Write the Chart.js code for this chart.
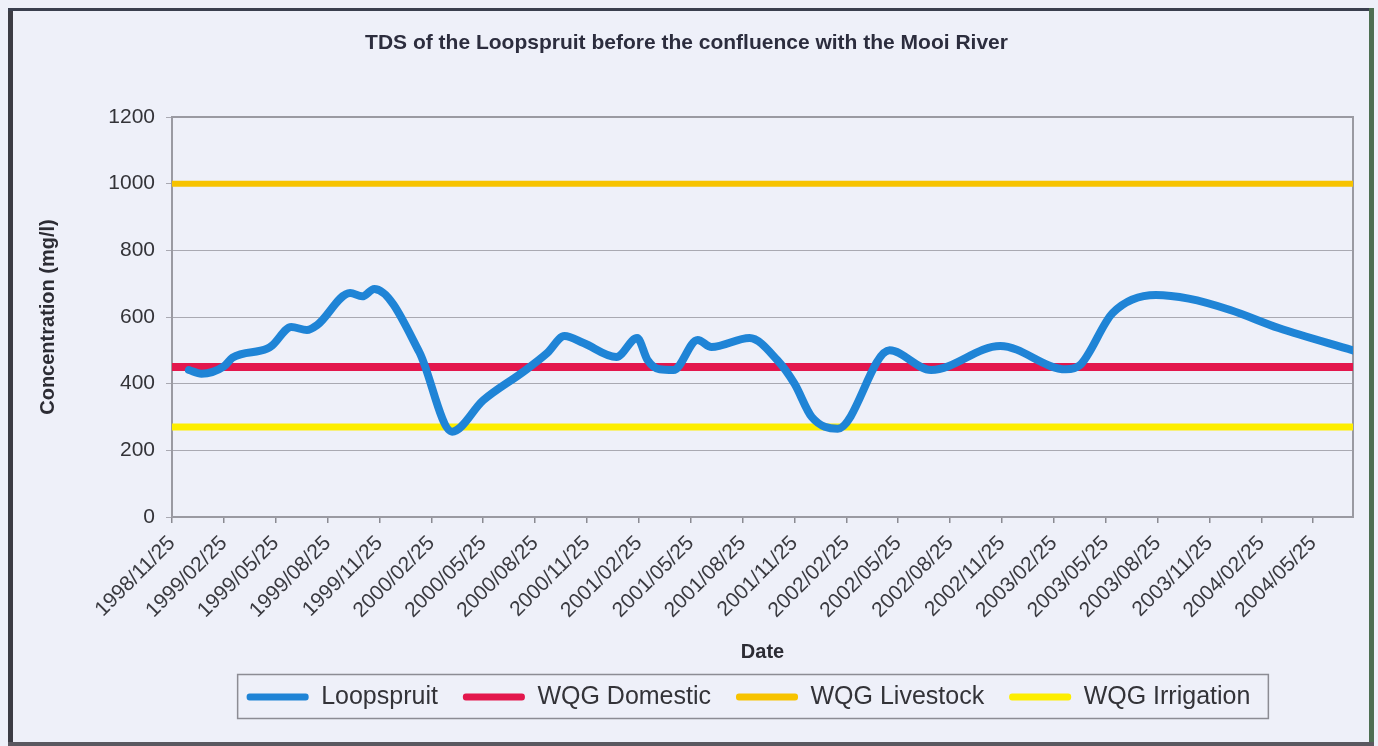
<!DOCTYPE html>
<html>
<head>
<meta charset="utf-8">
<script src="https://cdn.jsdelivr.net/npm/chart.js@4.4.1/dist/chart.umd.min.js"></script>
<style>
html,body{margin:0;padding:0;background:#eef0f9;overflow:hidden}
#wrap{position:relative;width:1378px;height:746px}
</style>
</head>
<body>
<div id="wrap"><canvas id="c"></canvas></div>
<script>
// ---- data (x in months after 1998/11/25) ----
const tickLabels = ["1998/11/25","1999/02/25","1999/05/25","1999/08/25","1999/11/25",
  "2000/02/25","2000/05/25","2000/08/25","2000/11/25","2001/02/25","2001/05/25",
  "2001/08/25","2001/11/25","2002/02/25","2002/05/25","2002/08/25","2002/11/25",
  "2003/02/25","2003/05/25","2003/08/25","2003/11/25","2004/02/25","2004/05/25"];
const monthsPerTick = 3;
const axisEndMonth = 68.3;

const loopMonths = [0.98, 1.7, 3.0, 3.5, 5.5, 5.8, 6.9, 7.8, 8.4, 10.3, 11.0, 11.7,
  14.3, 16.2, 18.0, 20.3, 21.7, 22.7, 23.8, 25.7, 26.9, 27.5, 28.2, 29.0, 30.4, 31.2,
  33.4, 35.0, 36.0, 37.0, 38.5, 41.5, 43.9, 47.9, 51.7, 52.5, 54.4, 56.9, 58.8, 61.2,
  64.0, 68.3];
const loopValues = [441, 430, 452, 478, 505, 515, 570, 561, 576, 672, 662, 684,
  495, 256, 350, 435, 492, 543, 522, 480, 537, 471, 443, 441, 531, 510,
  537, 471, 400, 300, 265, 500, 441, 513, 443, 455, 612, 666, 655, 621,
  567, 500];

const domesticValue = 450;
const livestockValue = 1000;
const irrigationValue = 270;

const yMin = 0, yMax = 1200, yStep = 200;

// ---- build datasets ----
const loopData = loopMonths.map((m, i) => ({x: m, y: loopValues[i]}));
const flat = v => [{x: 0, y: v}, {x: axisEndMonth, y: v}];

const FONT = "'Liberation Sans', Arial, sans-serif";
const LEGEND_SHIFT = -14;

const framePlugin = {
  id: 'frame',
  afterLayout(chart) {
    const lg = chart.legend;
    if (!lg) return;
    lg.left += LEGEND_SHIFT;
    lg.right += LEGEND_SHIFT;
    if (lg.legendHitBoxes) {
      lg.legendHitBoxes.forEach(h => { h.left += LEGEND_SHIFT; });
    }
  },
  beforeDraw(chart) {
    const ctx = chart.ctx;
    ctx.save();
    ctx.fillStyle = '#eef0f9';
    ctx.fillRect(0, 0, chart.width, chart.height);
    // outer frame
    ctx.fillStyle = '#3c3c44';
    ctx.fillRect(8, 8, 5, 738);
    ctx.fillStyle = '#3a3f4e';
    ctx.fillRect(8, 8, 1366, 3);
    ctx.fillStyle = '#4d6f52';
    ctx.fillRect(1369, 8, 5, 738);
    ctx.fillStyle = '#5a5860';
    ctx.fillRect(8, 742, 1366, 4);
    ctx.restore();
  },
  beforeDatasetsDraw(chart) {
    const {ctx, chartArea: a} = chart;
    ctx.save();
    ctx.strokeStyle = '#9a9aa2';
    ctx.lineWidth = 2;
    ctx.strokeRect(a.left, a.top, a.right - a.left, a.bottom - a.top);
    ctx.restore();
  },
  afterDraw(chart) {
    const lg = chart.legend;
    if (!lg || !lg.legendHitBoxes || !lg.legendHitBoxes.length) return;
    const hb = lg.legendHitBoxes;
    let l = Math.min(...hb.map(h => h.left)) - 9;
    let r = Math.max(...hb.map(h => h.left + h.width)) + 18;
    let t = hb[0].top - 10;
    let b = hb[0].top + hb[0].height + 9;
    if (!isFinite(l) || !isFinite(r) || !isFinite(t) || !isFinite(b)) {
      l = 238; r = 1267; t = 675; b = 718;
    }
    const ctx = chart.ctx;
    ctx.save();
    ctx.strokeStyle = '#8c8c94';
    ctx.lineWidth = 1.5;
    ctx.strokeRect(l, t, r - l, b - t);
    ctx.restore();
  }
};

new Chart(document.getElementById('c'), {
  type: 'line',
  data: {
    datasets: [
      {label: 'Loopspruit', data: loopData, borderColor: '#1f84d6', backgroundColor: '#1f84d6',
       borderWidth: 8, cubicInterpolationMode: 'monotone', borderCapStyle: 'round', borderJoinStyle: 'round', pointRadius: 0},
      {label: 'WQG Domestic', data: flat(domesticValue), borderColor: '#e3174d', backgroundColor: '#e3174d',
       borderWidth: 8, pointRadius: 0},
      {label: 'WQG Livestock', data: flat(livestockValue), borderColor: '#f7c300', backgroundColor: '#f7c300',
       borderWidth: 6, pointRadius: 0},
      {label: 'WQG Irrigation', data: flat(irrigationValue), borderColor: '#fdee00', backgroundColor: '#fdee00',
       borderWidth: 7, pointRadius: 0}
    ]
  },
  options: {
    responsive: true,
    maintainAspectRatio: false,
    animation: false,
    layout: {padding: {left: 20, right: 25, top: 20, bottom: 26.5}},
    plugins: {
      title: {
        display: true,
        text: 'TDS of the Loopspruit before the confluence with the Mooi River',
        color: '#2c2d3e',
        font: {family: FONT, size: 21, weight: 'bold'},
        padding: {top: 11, bottom: 60.8}
      },
      legend: {
        position: 'bottom',
        fullSize: false,
        labels: {
          color: '#333338',
          font: {family: FONT, size: 25},
          boxWidth: 62,
          boxHeight: 7,
          padding: 25,
          useBorderRadius: true,
          borderRadius: 3,
          generateLabels: (chart) => Chart.defaults.plugins.legend.labels.generateLabels(chart)
            .map(l => Object.assign(l, {lineWidth: 0, borderRadius: 3}))
        }
      },
      tooltip: {enabled: false}
    },
    scales: {
      x: {
        type: 'linear',
        min: 0,
        max: axisEndMonth,
        afterBuildTicks: (scale) => {
          scale.ticks = tickLabels.map((_, i) => ({value: i * monthsPerTick}));
        },
        afterFit: (scale) => { scale.height = 142.5; },
        ticks: {
          autoSkip: false,
          minRotation: 45,
          maxRotation: 45,
          padding: 8,
          color: '#3a3a40',
          font: {family: FONT, size: 21},
          callback: (v, i) => tickLabels[i]
        },
        grid: {drawOnChartArea: false, drawTicks: true, tickLength: 6, color: '#8a8a92', lineWidth: 1.5},
        border: {color: '#8a8a92', width: 2},
        title: {
          display: true, text: 'Date', color: '#2c2c34',
          font: {family: FONT, size: 20, weight: 'bold', lineHeight: 1.0},
          padding: {top: 0, bottom: -3}
        }
      },
      y: {
        min: yMin,
        max: yMax,
        afterFit: (scale) => { scale.width = 152; },
        afterBuildTicks: (scale) => {
          const t = [];
          for (let v = yMin; v <= yMax; v += yStep) t.push({value: v});
          scale.ticks = t;
        },
        ticks: {
          padding: 11,
          color: '#333338',
          font: {family: FONT, size: 21},
          callback: (v) => String(v)
        },
        grid: {color: '#a9a9b2', lineWidth: 1, drawTicks: true, tickLength: 6},
        border: {color: '#8a8a92', width: 2},
        title: {
          display: true, text: 'Concentration (mg/l)', color: '#2c2c34',
          font: {family: FONT, size: 20, weight: 'bold'},
          padding: {top: 16, bottom: 0}
        }
      }
    }
  },
  plugins: [framePlugin]
});
</script>
</body>
</html>
